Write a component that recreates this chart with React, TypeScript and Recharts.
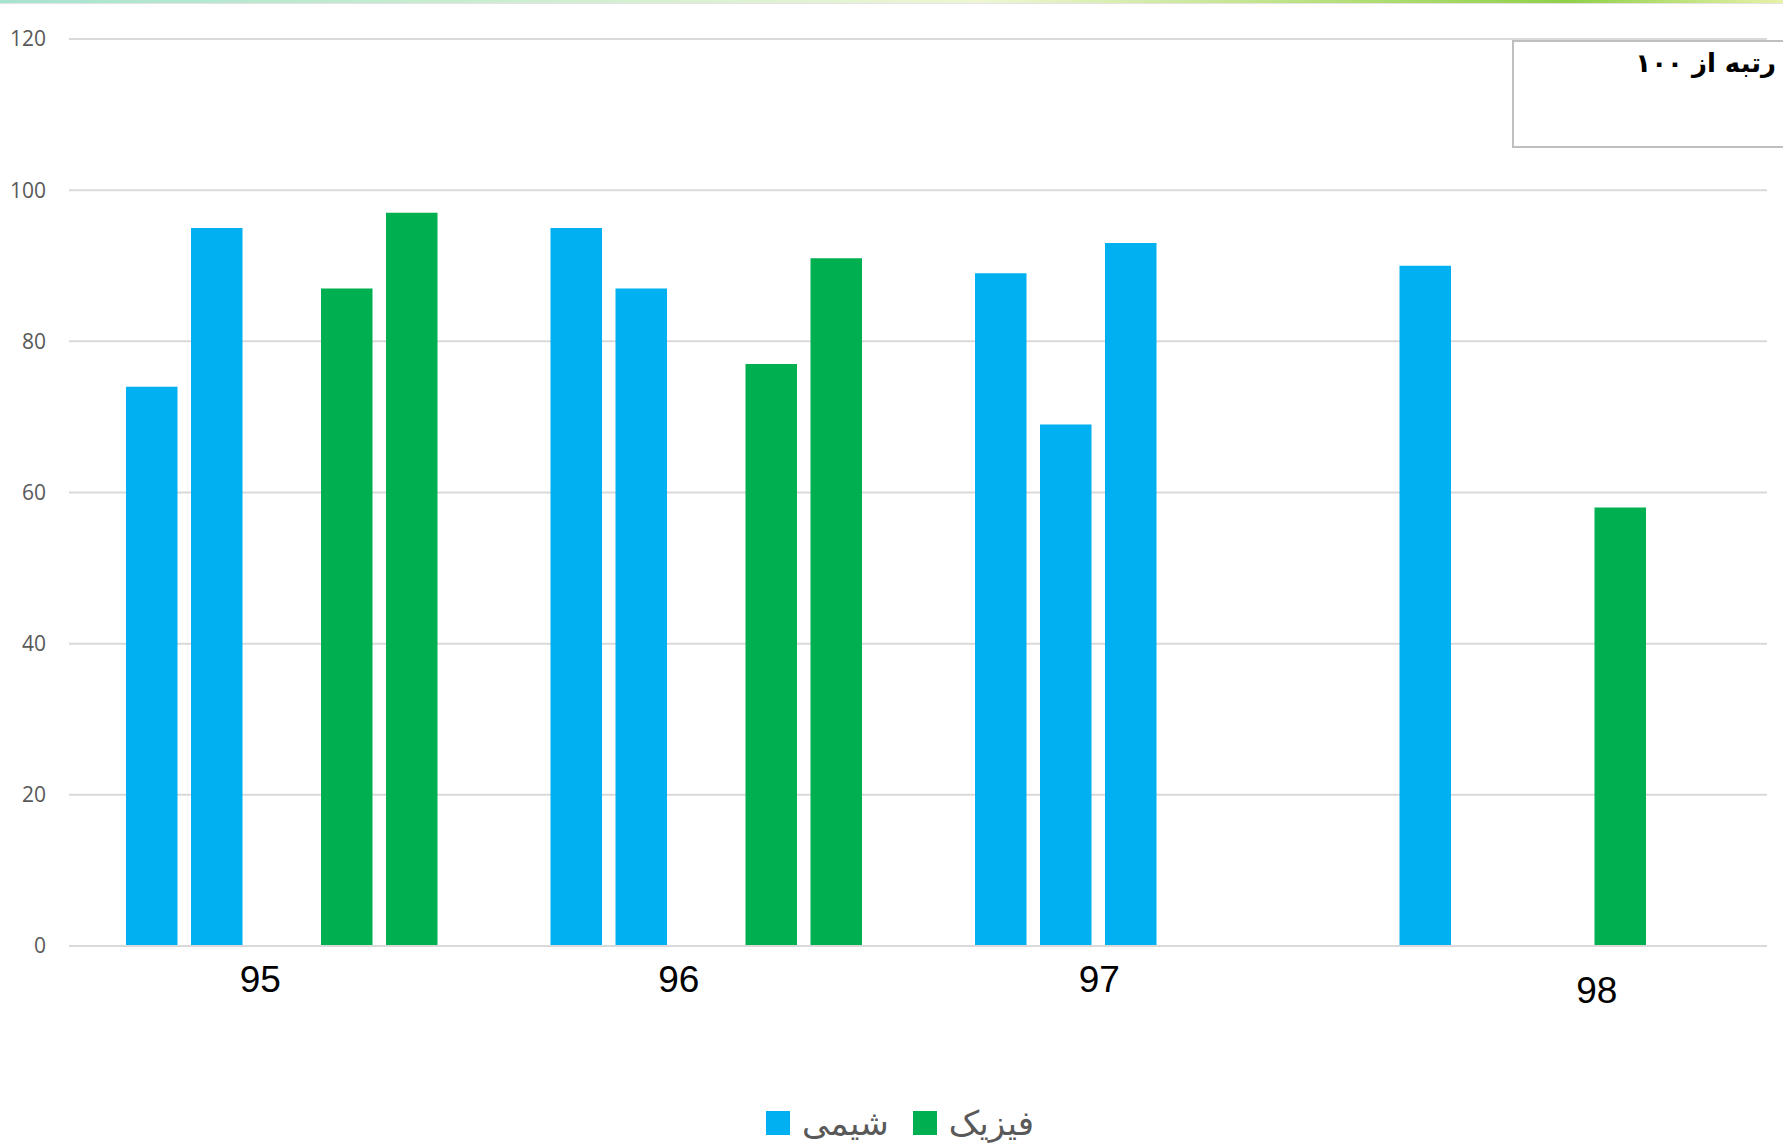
import { BarChart, Bar, XAxis, YAxis, CartesianGrid } from 'recharts'

const years = ['95', '96', '97', '98']
// five bar slots per year: first three chemistry, last two physics
const chem1 = [74, 95, 89, 90]
const chem2 = [95, 87, 69, null]
const chem3 = [null, null, 93, null]
const phys1 = [87, 77, null, 58]
const phys2 = [97, 91, null, null]
const yTicks = [0, 20, 40, 60, 80, 100, 120]

const legendItems = [
  { name: 'شیمی', color: '#00B0F0' },
  { name: 'فیزیک', color: '#00B050' },
]

const data = years.map((year, i) => ({
  year,
  chem1: chem1[i],
  chem2: chem2[i],
  chem3: chem3[i],
  phys1: phys1[i],
  phys2: phys2[i],
}))

// the year labels in the source sit slightly off their category centres
const labelShift = [
  { dx: -21, dy: 46 },
  { dx: -27, dy: 46 },
  { dx: -31, dy: 46 },
  { dx: 42, dy: 57 },
]

function YearTick(props: any) {
  const { x, y, payload, index } = props
  const s = labelShift[index] || { dx: 0, dy: 46 }
  return (
    <text
      x={x + s.dx}
      y={y + s.dy}
      textAnchor="middle"
      fill="#000"
      style={{ fontFamily: '"Liberation Sans", Arial, sans-serif', fontSize: 37 }}
    >
      {payload.value}
    </text>
  )
}

export default function App() {
  return (
    <div
      style={{
        position: 'absolute',
        left: 0,
        top: 0,
        width: 1783,
        height: 1148,
        background: '#fff',
        overflow: 'hidden',
      }}
    >
      <div
        style={{
          position: 'absolute',
          left: 0,
          top: 0,
          width: 1783,
          height: 3,
          background:
            'linear-gradient(90deg, #a6e3cf 0%, #c8ecd0 25%, #eef6d4 55%, #b5df7a 75%, #8fd04a 88%, #e8f2a8 100%)',
        }}
      />
      <div
        style={{
          position: 'absolute',
          left: 0,
          top: 3,
          width: 1783,
          height: 1,
          background: '#e3e3e3',
        }}
      />
      <BarChart
        width={1783}
        height={1148}
        data={data}
        margin={{ top: 39, right: 16, left: 0, bottom: 82 }}
        barSize={51.5}
        barGap={13.5}
      >
        <CartesianGrid vertical={false} stroke="#d9d9d9" strokeWidth={2} />
        <XAxis
          dataKey="year"
          axisLine={{ stroke: '#d9d9d9', strokeWidth: 2 }}
          tickLine={false}
          tickSize={0}
          tickMargin={0}
          height={120}
          interval={0}
          tick={<YearTick />}
        />
        <YAxis
          domain={[0, 120]}
          ticks={yTicks}
          width={69}
          axisLine={false}
          tickLine={false}
          tickSize={0}
          tickMargin={23}
          tick={{ fill: '#595959', fontSize: 21, fontFamily: '"Open Sans", sans-serif' }}
        />
        <Bar dataKey="chem1" fill="#00B0F0" isAnimationActive={false} />
        <Bar dataKey="chem2" fill="#00B0F0" isAnimationActive={false} />
        <Bar dataKey="chem3" fill="#00B0F0" isAnimationActive={false} />
        <Bar dataKey="phys1" fill="#00B050" isAnimationActive={false} />
        <Bar dataKey="phys2" fill="#00B050" isAnimationActive={false} />
      </BarChart>
      <div
        style={{
          position: 'absolute',
          left: 1512,
          top: 40,
          width: 300,
          height: 108,
          border: '2px solid #bfbfbf',
          background: '#fff',
          boxSizing: 'border-box',
        }}
      >
        <div
          dir="rtl"
          style={{
            position: 'absolute',
            right: 34,
            top: 6,
            whiteSpace: 'nowrap',
            fontFamily: '"DejaVu Sans", sans-serif',
            fontWeight: 'bold',
            fontSize: 26,
            letterSpacing: -1,
            color: '#000',
          }}
        >
          رتبه از ۱۰۰
        </div>
      </div>
      <div
        style={{
          position: 'absolute',
          left: 766,
          top: 1103,
          display: 'flex',
          alignItems: 'center',
          fontFamily: '"DejaVu Sans", sans-serif',
          fontSize: 34,
          color: '#595959',
        }}
      >
        {legendItems.map((item) => (
          <div key={item.name} style={{ display: 'flex', alignItems: 'center', marginRight: 24 }}>
            <span
              style={{ display: 'inline-block', width: 24, height: 24, background: item.color, marginRight: 12 }}
            />
            <span>{item.name}</span>
          </div>
        ))}
      </div>
    </div>
  )
}
